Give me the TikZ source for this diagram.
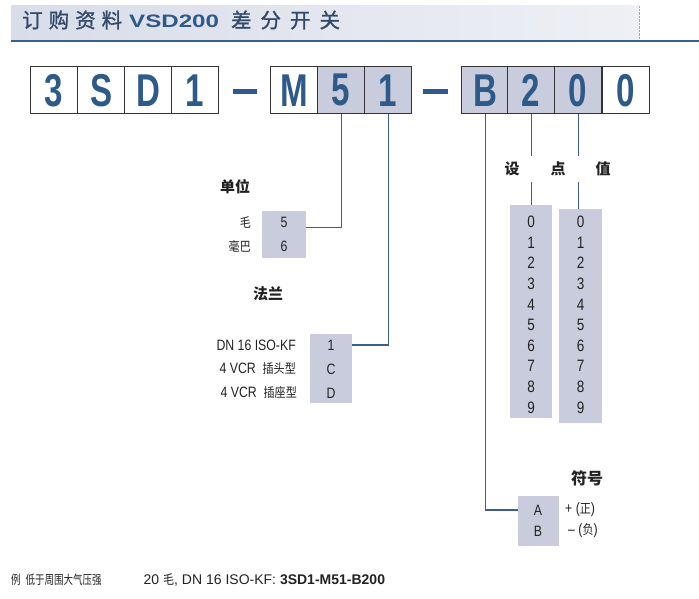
\documentclass[tikz,border=0pt]{standalone}
\usepackage{fontspec}
\setmainfont{Liberation Sans}
\newfontfamily\narrowfont[FakeStretch=0.82]{Liberation Sans}
\newfontfamily\codefont[FakeStretch=0.72]{Liberation Sans}
\newfontfamily\widefont[FakeStretch=1.34]{Liberation Sans}
\newfontfamily\cjk{Noto Sans CJK SC}
\newfontfamily\cjktitle[FakeBold=1.2]{Noto Sans CJK SC}
\newfontfamily\cjknarrow[FakeStretch=0.85]{Noto Sans CJK SC}
\newfontfamily\cjkslim[FakeStretch=0.76]{Noto Sans CJK SC}
\usepackage{xcolor}
\definecolor{codeblue}{HTML}{2E5A8A}
\definecolor{cellgray}{HTML}{C9CCDC}
\definecolor{cellline}{HTML}{333333}
\definecolor{linkblue}{HTML}{3D5F8C}
\definecolor{titlegray}{HTML}{34496A}
\definecolor{bannerL}{HTML}{D9DDE9}
\definecolor{bannerR}{HTML}{EEF0F5}
\definecolor{textgray}{HTML}{222222}
\newcommand{\zh}[1]{{\cjknarrow\fontsize{13}{13}\selectfont #1}}
\tikzset{
    cell/.style={draw=cellline,line width=1.4pt,minimum width=47pt,minimum height=47pt,
        inner sep=0pt,anchor=north west,text=codeblue,
        font=\codefont\bfseries\fontsize{46}{46}\selectfont},
    optbox/.style={fill=cellgray,inner sep=0pt,anchor=north west},
    opt/.style={inner sep=0pt,text=textgray,font=\narrowfont\fontsize{15}{15}\selectfont},
    digit/.style={inner sep=0pt,text=textgray,font=\narrowfont\fontsize{16.5}{16.5}\selectfont},
    head/.style={inner sep=0pt,text=textgray,font=\cjk\bfseries\fontsize{15}{15}\selectfont},
    link/.style={draw=linkblue,line width=1.3pt},
    codedash/.style={draw=codeblue,line width=5pt},
}

\begin{document}
\begin{tikzpicture}[x=1pt,y=-1pt]
    \useasboundingbox (0,0) rectangle (699,599);

    \shade[left color=bannerL,right color=bannerR] (11,6) rectangle (639,40);
    \draw[gray!70,densely dotted] (639,6) -- (639,40);
    \draw[linkblue,line width=1.8pt] (11,41) -- (699,41);
    \node[anchor=west,inner sep=0pt,text=titlegray] (title) at (22,20) {\cjktitle\fontsize{20.5}{20.5}\selectfont
        订\hspace{6pt}购\hspace{6pt}资\hspace{6pt}料\hspace{7pt}{\widefont\bfseries\fontsize{18}{18}\selectfont\color{codeblue}VSD200}\hspace{12pt}差\hspace{9pt}分\hspace{9pt}开\hspace{9pt}关};

    \foreach \x/\t/\f [count=\i] in {30/3/white,77/S/white,124/D/white,171/1/white,
            270/M/white,317/5/cellgray,364/1/cellgray,
            461/B/cellgray,507/2/cellgray,554/0/cellgray,602/0/white}
        \node[cell,fill=\f] (c\i) at (\x,66) {\t};
    \draw[codedash] (233,92) -- (257,92);
    \draw[codedash] (423,92) -- (448,92);

    \node[head] (unithead) at (235,187) {单位};
    \node[optbox,minimum width=44pt,minimum height=47pt] (unit) at (262,211) {};
    \node[opt] (u5) at (284,222) {5};
    \node[opt] (u6) at (284,246) {6};
    \node[opt,anchor=east] at (251,222) {\zh{毛}};
    \node[opt,anchor=east] at (251,246) {\zh{毫巴}};
    \draw[link] (c6.south) |- ([yshift=7pt]unit.east);

    \node[head] (flangehead) at (268,294) {法兰};
    \node[optbox,minimum width=42pt,minimum height=69pt] (flange) at (310,334) {};
    \node[opt] (f1) at (331,345) {1};
    \node[opt] (fC) at (331,369) {C};
    \node[opt] (fD) at (331,393) {D};
    \node[opt,anchor=east] at (296,345) {DN 16 ISO-KF};
    \node[opt,anchor=east] at (296,369) {4 VCR\ \ \zh{插头型}};
    \node[opt,anchor=east] at (297,393) {4 VCR\ \ \zh{插座型}};
    \draw[link] (c7.south) |- (f1 -| flange.east);

    \node[head,inner sep=6pt] (pt1) at (512,169) {设};
    \node[head,inner sep=6pt] (pt2) at (558,169) {点};
    \node[head,inner sep=6pt] (pt3) at (603,169) {值};
    \node[optbox,minimum width=42pt,minimum height=213pt] (d1) at (510,205) {};
    \node[optbox,minimum width=43pt,minimum height=214pt] (d2) at (559,209) {};
    \foreach \k in {0,...,9} {
        \path (d1.north) ++(0,{17+20.6*\k}) node[digit] {\k};
        \path (d2.north) ++(0,{13+20.6*\k}) node[digit] {\k};
    }
    \draw[link] (c9.south) -- (c9.south |- pt2.north);
    \draw[link] (c9.south |- pt2.south) -- (c9.south |- d1.north);
    \draw[link] (c10.south) -- (c10.south |- pt2.north);
    \draw[link] (c10.south |- pt2.south) -- (c10.south |- d2.north);

    \node[head,font=\cjk\bfseries\fontsize{16}{16}\selectfont] (signhead) at (587,478) {符号};
    \node[optbox,minimum width=41pt,minimum height=50pt] (sign) at (518,496) {};
    \node[opt] (sA) at (538,510) {A};
    \node[opt] (sB) at (538,531) {B};
    \node[opt,anchor=west] at (565,510) {+ (\zh{正})};
    \node[opt,anchor=west] at (568,531) {– (\zh{负})};
    \draw[link] (c8.south) |- (sA -| sign.west);

    \node[anchor=west,inner sep=0pt,text=textgray,font=\fontsize{14}{14}\selectfont] (example) at (11,580)
        {{\cjkslim\fontsize{12.5}{12.5}\selectfont 例\hspace{5pt}低于周围大气压强}\hspace{42pt}20 \zh{毛}, DN 16 ISO-KF: \textbf{3SD1-M51-B200}};
\end{tikzpicture}
\end{document}
